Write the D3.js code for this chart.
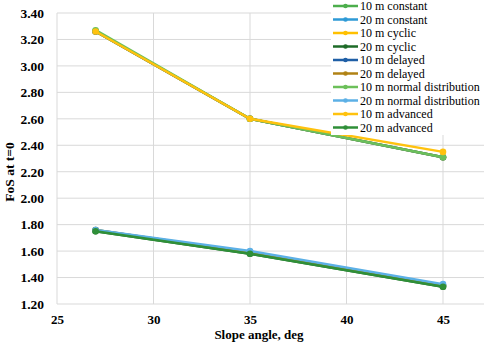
<!DOCTYPE html>
<html>
<head>
<meta charset="utf-8">
<script src="https://cdn.jsdelivr.net/npm/d3@7"></script>
<style>
  body { margin: 0; background: #fff; }
  svg { display: block; }
  svg text { font-family: "Liberation Serif", "DejaVu Serif", serif; }
</style>
</head>
<body>
<div id="chart"></div>
<script>
// slope angles on the x axis
const angles = [27, 35, 45]

const seriesNames = [
    '10 m constant', '20 m constant', '10 m cyclic', '20 m cyclic',
    '10 m delayed', '20 m delayed', '10 m normal distribution',
    '20 m normal distribution', '10 m advanced', '20 m advanced'
]

const seriesColors = [
    '#4cae4c', '#2e9ad6', '#ffc000', '#1e6b28',
    '#1f5fa6', '#b08214', '#6cc05a', '#5cb0e6', '#ffc20e', '#2f8f38'
]

// FoS at t=0, one array per series
const c10 = [3.26, 2.60, 2.31]
const c20 = [1.76, 1.59, 1.34]
const cy10 = [3.26, 2.60, 2.31]
const cy20 = [1.75, 1.58, 1.33]
const d10 = [3.26, 2.60, 2.31]
const d20 = [1.76, 1.59, 1.34]
const n10 = [3.27, 2.60, 2.31]
const n20 = [1.76, 1.60, 1.35]
const a10 = [3.26, 2.60, 2.35]
const a20 = [1.75, 1.58, 1.33]
const seriesValues = [c10, c20, cy10, cy20, d10, d20, n10, n20, a10, a20]

const xTicks = [25, 30, 35, 40, 45]
const yTicks = [1.2, 1.4, 1.6, 1.8, 2.0, 2.2, 2.4, 2.6, 2.8, 3.0, 3.2, 3.4]

let fullWidth = 484
let fullHeight = 344

const svg = d3.select('#chart').append('svg')
    .attr('width', fullWidth).attr('height', fullHeight)

const x = d3.scaleLinear().domain([25, 45]).range([57, 443])
const y = d3.scaleLinear().domain([1.2, 3.4]).range([304, 13])

const font = '"Liberation Serif", "DejaVu Serif", serif'

// grid
svg.append('g').selectAll('line.h').data(yTicks).enter().append('line')
    .attr('x1', x(25)).attr('x2', fullWidth)
    .attr('y1', d => y(d)).attr('y2', d => y(d))
    .attr('stroke', '#d9d9d9').attr('stroke-width', 1)
svg.append('g').selectAll('line.v').data(xTicks).enter().append('line')
    .attr('x1', d => x(d)).attr('x2', d => x(d))
    .attr('y1', y(3.4)).attr('y2', y(1.2))
    .attr('stroke', '#d9d9d9').attr('stroke-width', 1)

// axes (labels only)
const yAxis = svg.append('g')
    .attr('transform', 'translate(' + x(25) + ',0)')
    .call(d3.axisLeft(y).tickValues(yTicks).tickFormat(d3.format('.2f')).tickSize(0).tickPadding(13))
yAxis.attr('font-family', null)
yAxis.select('.domain').remove()
yAxis.selectAll('text').style('font-family', font).style('font-size', '13.5px')
    .style('font-weight', 'bold').attr('fill', '#000')

const xAxis = svg.append('g')
    .attr('transform', 'translate(0,' + y(1.2) + ')')
    .call(d3.axisBottom(x).tickValues(xTicks).tickSize(0).tickPadding(11))
xAxis.attr('font-family', null)
xAxis.select('.domain').remove()
xAxis.selectAll('text').style('font-family', font).style('font-size', '13px')
    .style('font-weight', 'bold').attr('fill', '#000')

svg.append('text')
    .attr('x', 259).attr('y', 339)
    .attr('text-anchor', 'middle')
    .style('font-family', font).style('font-size', '13px').style('font-weight', 'bold')
    .text('Slope angle, deg')

svg.append('text')
    .attr('transform', 'translate(14,172) rotate(-90)')
    .attr('text-anchor', 'middle')
    .style('font-family', font).style('font-size', '13.5px').style('font-weight', 'bold')
    .text('FoS at t=0')

// lines
const line = d3.line().x((d, i) => x(angles[i])).y(d => y(d))

seriesValues.forEach((vals, k) => {
    const g = svg.append('g').attr('class', 'series')
    g.append('path').datum(vals)
        .attr('d', line)
        .attr('fill', 'none')
        .attr('stroke', seriesColors[k])
        .attr('stroke-width', 2.5)
    g.selectAll('circle').data(vals).enter().append('circle')
        .attr('cx', (d, i) => x(angles[i]))
        .attr('cy', d => y(d))
        .attr('r', 3.3)
        .attr('fill', seriesColors[k])
})

// legend
const legend = svg.append('g').attr('class', 'legend')
legend.append('rect')
    .attr('x', 331).attr('y', 0).attr('width', fullWidth - 331).attr('height', 135)
    .attr('fill', '#fff')

const rows = legend.selectAll('g.row').data(seriesNames).enter().append('g')
    .attr('transform', (d, i) => 'translate(333,' + (6 + i * 13.5) + ')')
rows.append('line')
    .attr('x1', 0).attr('x2', 25).attr('y1', 0).attr('y2', 0)
    .attr('stroke', (d, i) => seriesColors[i]).attr('stroke-width', 2.5)
rows.append('circle')
    .attr('cx', 12.5).attr('cy', 0).attr('r', 2.3)
    .attr('fill', (d, i) => seriesColors[i])
rows.append('text')
    .attr('x', 27).attr('y', 0).attr('dy', '0.35em')
    .style('font-family', font).style('font-size', '12px')
    .attr('fill', '#000')
    .text(d => d)
</script>
</body>
</html>
